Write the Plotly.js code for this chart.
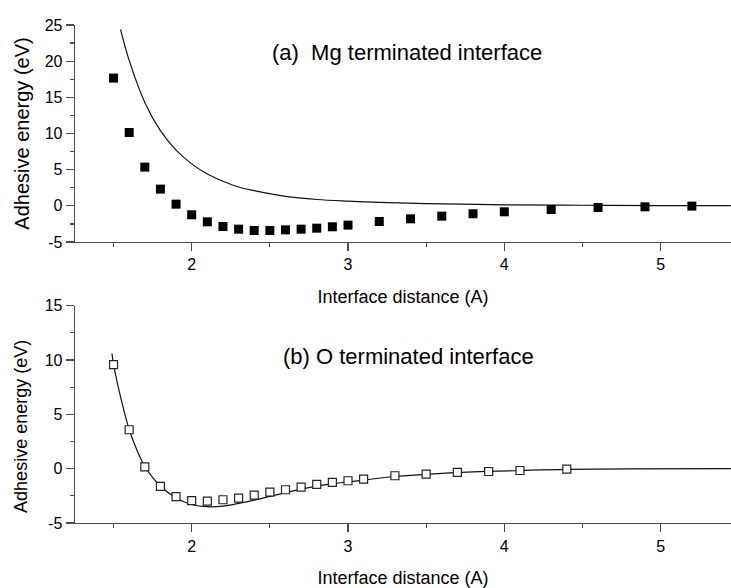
<!DOCTYPE html>
<html>
<head>
<meta charset="utf-8">
<script src="https://cdn.plot.ly/plotly-3.0.1.min.js"></script>
<style>html,body{margin:0;padding:0;background:#fff;}#chart{width:731px;height:588px;}</style>
</head>
<body>
<div id="chart"></div>
<script>
// (a) Mg terminated interface: computed points
var mgX = [1.5,1.6,1.7,1.8,1.9,2.0,2.1,2.2,2.3,2.4,2.5,2.6,2.7,2.8,2.9,3.0,3.2,3.4,3.6,3.8,4.0,4.3,4.6,4.9,5.2];
var mgY = [17.66,10.14,5.35,2.31,0.23,-1.24,-2.21,-2.86,-3.23,-3.41,-3.41,-3.32,-3.23,-3.09,-2.9,-2.67,-2.17,-1.8,-1.43,-1.1,-0.83,-0.51,-0.23,-0.14,-0.04];
// (a) curve
var mgCurveX = [1.545,1.6,1.7,1.8,1.9,2.0,2.1,2.2,2.3,2.4,2.6,2.8,3.0,3.2,3.5,4.0,4.5,5.0,5.45];
var mgCurveY = [24.4,20.1,14.3,10.4,7.7,5.8,4.4,3.4,2.6,2.1,1.3,0.87,0.64,0.47,0.31,0.14,0.08,0.04,0.02];
// (b) O terminated interface: computed points
var oX = [1.5,1.6,1.7,1.8,1.9,2.0,2.1,2.2,2.3,2.4,2.5,2.6,2.7,2.8,2.9,3.0,3.1,3.3,3.5,3.7,3.9,4.1,4.4];
var oY = [9.58,3.58,0.17,-1.63,-2.58,-2.95,-2.98,-2.86,-2.71,-2.43,-2.15,-1.94,-1.69,-1.45,-1.27,-1.11,-0.96,-0.65,-0.5,-0.35,-0.26,-0.17,-0.04];
// (b) curve
var oCurveX = [1.49,1.5,1.55,1.6,1.65,1.7,1.75,1.8,1.9,2.0,2.1,2.2,2.3,2.4,2.6,2.8,3.1,3.3,3.5,3.8,4.1,4.4,4.8,5.45];
var oCurveY = [10.6,9.6,6.3,3.6,1.7,0.2,-0.8,-1.6,-2.7,-3.3,-3.5,-3.45,-3.2,-2.9,-2.2,-1.6,-1.05,-0.72,-0.52,-0.3,-0.17,-0.06,-0.02,0];

var xTickVals = [2,3,4,5];
var xTickText = ['2','3','4','5'];
var yTopTickVals = [-5,0,5,10,15,20,25];
var yTopTickText = ['-5','0','5','10','15','20','25'];
var yBotTickVals = [-5,0,5,10,15];
var yBotTickText = ['-5','0','5','10','15'];

var FONT = 'Liberation Sans, Arial, Helvetica, sans-serif';
var AX = '#4a4a4a';

var traces = [
  {x: mgCurveX, y: mgCurveY, xaxis:'x', yaxis:'y', mode:'lines', line:{color:'#111', width:1.2, shape:'spline', smoothing:1}, hoverinfo:'skip'},
  {x: mgX, y: mgY, xaxis:'x', yaxis:'y', mode:'markers', marker:{symbol:'square', size:9, color:'#000'}},
  {x: oCurveX, y: oCurveY, xaxis:'x2', yaxis:'y2', mode:'lines', line:{color:'#111', width:1.2, shape:'spline', smoothing:1}, hoverinfo:'skip'},
  {x: oX, y: oY, xaxis:'x2', yaxis:'y2', mode:'markers', marker:{symbol:'square', size:8, color:'#fff', line:{color:'#222', width:1.2}}}
];

function xAx(anchor){
  return {
    anchor: anchor, range:[1.2534, 5.4504], showgrid:false, zeroline:false,
    showline:true, linecolor:AX, linewidth:1.3, mirror:false,
    ticks:'outside', ticklen:8, tickwidth:1.2, tickcolor:AX,
    tickvals:xTickVals, ticktext:xTickText,
    tickfont:{family:FONT, size:16, color:'#000'},
    minor:{dtick:0.5, tick0:0, ticks:'outside', ticklen:4, tickwidth:1.2, tickcolor:AX, showgrid:false},
    title:{text:'Interface distance (A)', font:{family:FONT, size:18, color:'#000'}, standoff:18}
  };
}
function yAx(anchor, domain, range, tv, tt){
  return {
    anchor: anchor, domain: domain, range: range, showgrid:false, zeroline:false,
    showline:true, linecolor:AX, linewidth:1.3, mirror:false,
    ticks:'outside', ticklen:8, tickwidth:1.2, tickcolor:AX,
    tickvals:tv, ticktext:tt,
    tickfont:{family:FONT, size:16, color:'#000'},
    minor:{dtick:2.5, tick0:0, ticks:'outside', ticklen:4, tickwidth:1.2, tickcolor:AX, showgrid:false}
  };
}

var yTop = yAx('x', [0.5643, 1], [-5, 25], yTopTickVals, yTopTickText);
yTop.title = {text:'Adhesive energy (eV)', font:{family:FONT, size:20, color:'#000'}, standoff:9};
var yBot = yAx('x2', [0, 0.4364], [-5, 15], yBotTickVals, yBotTickText);

var layout = {
  width:731, height:588,
  margin:{l:75, r:0, t:25, b:65},
  paper_bgcolor:'#fff', plot_bgcolor:'#fff',
  showlegend:false,
  font:{family:FONT, color:'#000'},
  xaxis: xAx('y'), yaxis: yTop,
  xaxis2: xAx('y2'), yaxis2: yBot,
  annotations:[
    {text:'(a)\u00a0\u00a0Mg terminated interface', xref:'x', yref:'y', x:3.377, y:21.2, showarrow:false, xanchor:'center', yanchor:'middle', font:{family:FONT, size:22, color:'#000'}},
    {text:'(b) O terminated interface', xref:'x2', yref:'y2', x:3.384, y:10.3, showarrow:false, xanchor:'center', yanchor:'middle', font:{family:FONT, size:22, color:'#000'}},
    {text:'Adhesive energy (eV)', xref:'paper', yref:'paper', x:-0.0835, y:0.1934, textangle:-90, showarrow:false, xanchor:'center', yanchor:'middle', font:{family:FONT, size:18, color:'#000'}}
  ]
};

Plotly.newPlot('chart', traces, layout, {displayModeBar:false, staticPlot:true});
</script>
</body>
</html>
